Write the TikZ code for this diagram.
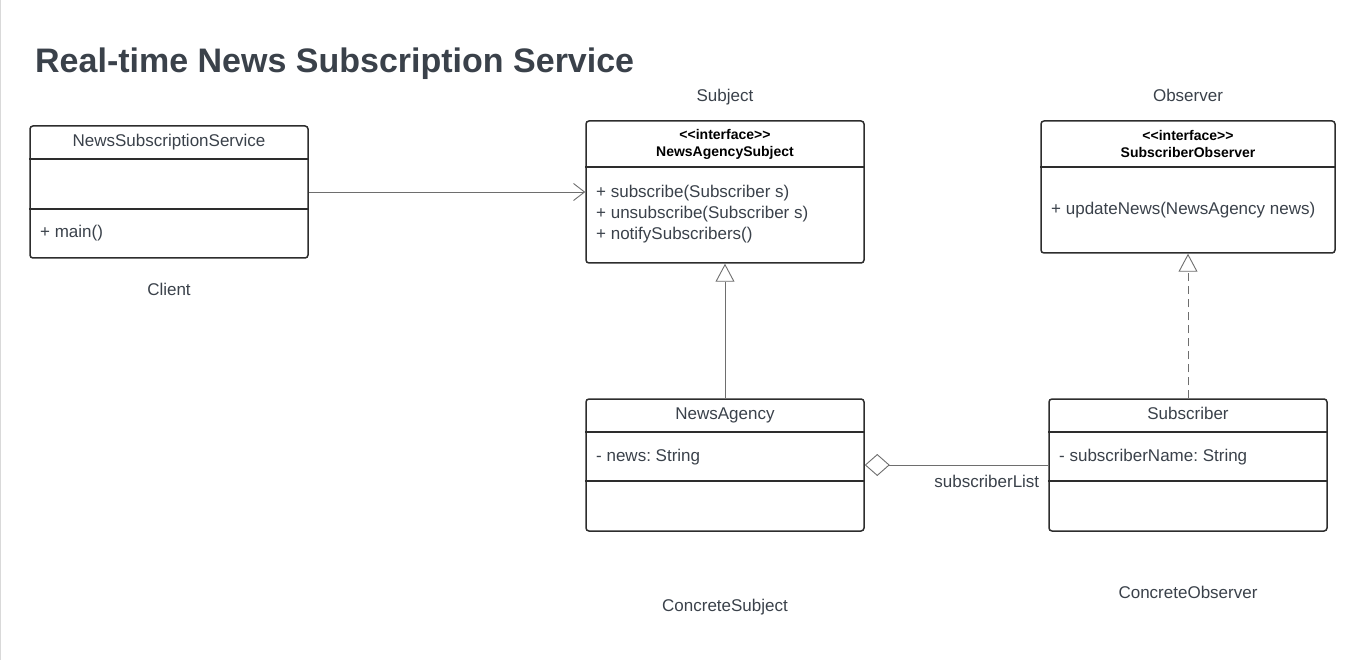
\documentclass[tikz,border=0pt]{standalone}
\usepackage{fontspec}
\setmainfont{Liberation Sans}
\usetikzlibrary{arrows.meta,positioning}
\frenchspacing
\definecolor{testo}{RGB}{58,65,74}
\definecolor{bordo}{RGB}{45,45,45}
\definecolor{linea}{RGB}{110,110,110}
\tikzset{
  classe/.style={draw=bordo, line width=1.5pt, rounded corners=3pt, inner sep=0pt},
  sep/.style={draw=bordo, line width=1.5pt},
  nome/.style={text=testo, font=\fontsize{17}{21}\selectfont, text height=12pt, text depth=3.5pt},
  membro/.style={nome, anchor=west, inner xsep=0pt, align=left},
  intest/.style={font=\bfseries\fontsize{14}{17}\selectfont, align=center, text=black},
  legame/.style={draw=linea, line width=0.9pt},
}
\begin{document}
\begin{tikzpicture}[x=1pt,y=-1pt]
        \useasboundingbox (0,0) rectangle (1365,660);
        \draw[gray!30] (0.5,0) -- (0.5,660);
        % Titolo
        \node[anchor=base west, inner sep=0pt, text=testo, font=\bfseries\fontsize{34}{40}\selectfont] (titolo) at (35,73) {Real-time News Subscription Service};
        % Client
        \node[classe, minimum width=278pt, minimum height=132pt] (client) at (169,192) {};
        \draw[sep] (client.west |- 0,159) -- (client.east |- 0,159);
        \draw[sep] (client.west |- 0,209) -- (client.east |- 0,209);
        \node[nome] (clientnome) at (169,142) {NewsSubscriptionService};
        \node[membro] (clientmain) at (40,233) {+ main()};
        \node[nome] (clientlbl) at (169,291) {Client};
        % Subject
        \node[classe, minimum width=278pt, minimum height=142pt] (subject) at (725,192) {};
        \draw[sep] (subject.west |- 0,167) -- (subject.east |- 0,167);
        \node[intest] (subjectnome) at (725,144) {{<}{<}interface{>}{>}\\NewsAgencySubject};
        \node[membro, font=\fontsize{17}{21}\selectfont, text height=, text depth=] (subjectop) at (596,214) {+ subscribe(Subscriber s)\\+ unsubscribe(Subscriber s)\\+ notifySubscribers()};
        \node[nome] (subjectlbl) at (725,97) {Subject};
        % Observer
        \node[classe, minimum width=294pt, minimum height=132pt] (observer) at (1188,187) {};
        \draw[sep] (observer.west |- 0,167) -- (observer.east |- 0,167);
        \node[intest] (observernome) at (1188,144) {{<}{<}interface{>}{>}\\SubscriberObserver};
        \node[membro] (observerop) at (1051,210) {+ updateNews(NewsAgency news)};
        \node[nome] (observerlbl) at (1188,97) {Observer};
        % ConcreteSubject
        \node[classe, minimum width=278pt, minimum height=132pt] (agency) at (725,465) {};
        \draw[sep] (agency.west |- 0,432) -- (agency.east |- 0,432);
        \draw[sep] (agency.west |- 0,481) -- (agency.east |- 0,481);
        \node[nome] (agencynome) at (725,415) {NewsAgency};
        \node[membro] (agencyattr) at (596,457) {- news: String};
        \node[nome] (agencylbl) at (725,607) {ConcreteSubject};
        % ConcreteObserver
        \node[classe, minimum width=278pt, minimum height=132pt] (subscriber) at (1188,465) {};
        \draw[sep] (subscriber.west |- 0,432) -- (subscriber.east |- 0,432);
        \draw[sep] (subscriber.west |- 0,481) -- (subscriber.east |- 0,481);
        \node[nome] (subscribernome) at (1188,415) {Subscriber};
        \node[membro] (subscriberattr) at (1059,457) {- subscriberName: String};
        \node[nome] (subscriberlbl) at (1188,594) {ConcreteObserver};
        % Relazioni
        \draw[legame, -{Straight Barb[length=11pt,width=17pt]}] (client) -- (subject);
        \draw[legame, -{Triangle[open,length=18pt,width=19pt,fill=white]}] (agency) -- (subject);
        \draw[legame, dash pattern=on 8pt off 5pt, -{Triangle[open,length=18pt,width=19pt,fill=white]}] (subscriber) -- (observer);
        \draw[legame, {Diamond[open,length=25pt,width=22pt,fill=white]}-] (agency) -- node[nome, pos=0.665, below=7pt] (lista) {subscriberList} (subscriber);
    \end{tikzpicture}
\end{document}
